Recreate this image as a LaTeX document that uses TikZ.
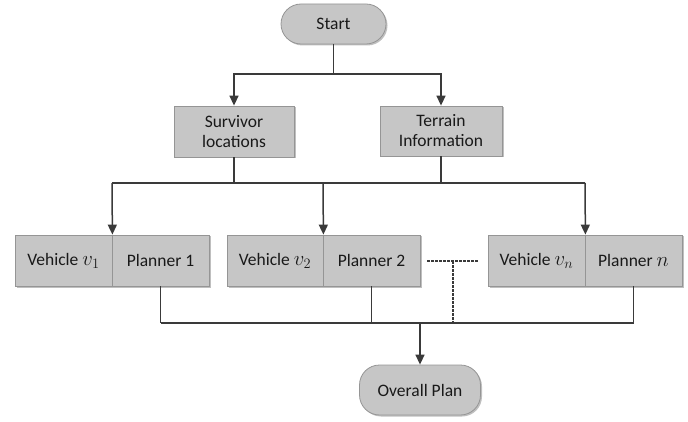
\documentclass[tikz,border=0pt]{standalone}
\usepackage{fontspec}
\setmainfont{Carlito}
\usetikzlibrary{arrows.meta,shadows}
\definecolor{boxfill}{HTML}{C6C6C6}
\definecolor{boxline}{HTML}{959595}
\definecolor{conn}{HTML}{3A3A3A}
\newcommand{\mv}[1]{{\fontsize{20}{20}\selectfont$#1$}}
\tikzset{
  base/.style={draw=boxline, fill=boxfill, line width=0.8pt, inner sep=0pt,
    font=\fontsize{17.5}{20}\selectfont, text=black!90,
    drop shadow={shadow xshift=1.5pt, shadow yshift=-1.5pt, opacity=0.25, fill=black}},
  boxnode/.style={base, rectangle, align=center},
  term/.style={base, rectangle, rounded corners=20pt},
  conline/.style={draw=conn, line width=1.5pt},
  arr/.style={conline, -{Triangle[length=10pt,width=9pt]}},
  dotted line/.style={draw=conn, line width=1.2pt, dash pattern=on 2.5pt off 1.5pt}
}
\begin{document}
\begin{tikzpicture}[x=1pt,y=-1pt]
\useasboundingbox (0,0) rectangle (688,422);
% terminals
\node[term, minimum width=105pt, minimum height=40pt] (start) at (333.5,24) {Start};
\node[term, minimum width=121pt, minimum height=50pt] (overall) at (420,390) {Overall Plan};
% info boxes
\node[boxnode, minimum width=120pt, minimum height=51pt] (surv) at (234,131.5) {Survivor\\locations};
\node[boxnode, minimum width=122pt, minimum height=50pt] (terr) at (441,131) {Terrain\\Information};
% vehicle/planner boxes
\node[boxnode, minimum width=97pt, minimum height=51pt] (veh1) at (63.5,260.5) {Vehicle \mv{v_1}};
\node[boxnode, minimum width=97pt, minimum height=51pt] (plan1) at (160.5,260.5) {Planner 1};
\node[boxnode, minimum width=96pt, minimum height=51pt] (veh2) at (275,260.5) {Vehicle \mv{v_2}};
\node[boxnode, minimum width=97pt, minimum height=51pt] (plan2) at (371.5,260.5) {Planner 2};
\node[boxnode, minimum width=97pt, minimum height=51pt] (vehn) at (536.5,260.5) {Vehicle \mv{v_n}};
\node[boxnode, minimum width=97pt, minimum height=51pt] (plann) at (633.5,260.5) {Planner \mv{n}};
% junction coordinates
\coordinate (j1) at (333.5,74);
\coordinate (jl) at (112,183);
\coordinate (jm) at (323,183);
\coordinate (jr) at (585,183);
\coordinate (js) at (234,183);
\coordinate (jt) at (441,183);
\coordinate (b1) at (160.5,323);
\coordinate (bn) at (633.5,323);
\coordinate (bo) at (420,323);
\coordinate (d1) at (427,261);
\coordinate (d2) at (478,261);
\coordinate (d3) at (453,261);
\coordinate (d4) at (453,323);
% top connectors
\draw[conline] (start) -- (j1);
\draw[arr] (j1) -| (surv);
\draw[arr] (j1) -| (terr);
% middle
\draw[conline] (surv) -- (js);
\draw[conline] (terr) -- (jt);
\draw[conline] (jl) -- (jr);
\draw[arr] (jl) -- (veh1.north east);
\draw[arr] (jm) -- (veh2.north east);
\draw[arr] (jr) -- (vehn.north east);
% bottom
\draw[conline] (plan1) -- (b1);
\draw[conline] (plan2) -- (plan2 |- b1);
\draw[conline] (plann) -- (bn);
\draw[conline] (b1) -- (bn);
\draw[arr] (bo) -- (overall);
% dotted
\draw[dotted line] (d1) -- (d2);
\draw[dotted line] (d3) -- (d4);
\end{tikzpicture}
\end{document}
